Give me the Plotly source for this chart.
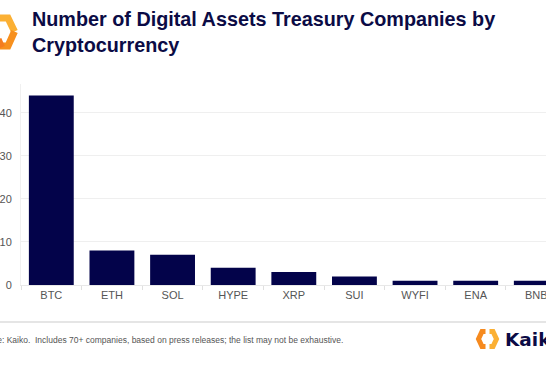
import plotly.graph_objects as go

categories = ["BTC", "ETH", "SOL", "HYPE", "XRP", "SUI", "WYFI", "ENA", "BNB"]
companies = [44, 8, 7, 4, 3, 2, 1, 1, 1]
y_ticks = [0, 10, 20, 30, 40]

W, H = 546, 365
L, R, T, B = 21, 0, 84, 80
PW, PH = W - L - R, H - T - B

def px(x):
    return (x - L) / PW

def py(y):
    return (H - B - y) / PH

NAVY = "#03034a"

fig = go.Figure(go.Bar(
    x=categories, y=companies, marker=dict(color=NAVY, line=dict(width=0)),
    hoverinfo="skip",
))

def path(points, close=False):
    s = "M " + " L ".join(f"{px(x)},{py(y)}" for x, y in points)
    return s + (" Z" if close else "")

shapes = [
    # footer rule
    dict(type="line", xref="paper", yref="paper", x0=px(-5), x1=px(W + 5),
         y0=py(322), y1=py(322), line=dict(color="#dcdcdc", width=1.5)),
    # top-left logo fragment
    dict(type="path", xref="paper", yref="paper",
         path=path([(0, 18), (8, 18), (14.5, 31.5)]),
         line=dict(color="#fbb034", width=7)),
    dict(type="path", xref="paper", yref="paper",
         path=path([(14.5, 31.5), (8, 46), (0, 46)]),
         line=dict(color="#f7901e", width=7)),
    dict(type="path", xref="paper", yref="paper",
         path=path([(-1, 39), (2.5, 47)]),
         line=dict(color="#f47c20", width=5)),
    # bottom-right Kaiko icon
    dict(type="path", xref="paper", yref="paper",
         path=path([(485.5, 331.5), (482, 331.5), (478.5, 339), (482, 346.5), (485.5, 346.5)]),
         line=dict(color="#f68a1f", width=5)),
    dict(type="path", xref="paper", yref="paper",
         path=path([(489.5, 331.5), (493, 331.5), (496.5, 339), (493, 346.5), (489.5, 346.5)]),
         line=dict(color="#fbb034", width=5)),
]

annotations = [
    dict(xref="paper", yref="paper", x=px(30), y=py(6), xanchor="left", yanchor="top",
         text="<b>Number of Digital Assets Treasury Companies by<br>Cryptocurrency</b>",
         align="left", showarrow=False,
         font=dict(family="Liberation Sans, Arial, sans-serif", size=19.8, color="#0b0b45")),
    dict(xref="paper", yref="paper", x=px(-27), y=py(340), xanchor="left", yanchor="middle",
         text="Source: Kaiko.  Includes 70+ companies, based on press releases; the list may not be exhaustive.",
         showarrow=False,
         font=dict(family="Liberation Sans, Arial, sans-serif", size=8.5, color="#555555")),
    dict(xref="paper", yref="paper", x=px(503), y=py(339), xanchor="left", yanchor="middle",
         text="<b>Kaiko</b>", showarrow=False,
         font=dict(family="DejaVu Sans, sans-serif", size=18.5, color="#0b0b45")),
]

fig.update_layout(
    width=W, height=H,
    margin=dict(l=L, r=R, t=T, b=B, pad=0, autoexpand=False),
    paper_bgcolor="white", plot_bgcolor="white",
    bargap=0.26,
    showlegend=False,
    shapes=shapes,
    annotations=annotations,
    font=dict(family="Liberation Sans, Arial, sans-serif", color="#555555"),
    xaxis=dict(
        range=[-0.5, 8.16], showgrid=False, showline=True, linecolor="#e8e8e8",
        ticks="outside", tickson="boundaries", ticklen=4, tickcolor="#e0e0e0",
        tickfont=dict(size=11, color="#555555"), fixedrange=True, automargin=False,
    ),
    yaxis=dict(
        range=[0, 46.7], tickvals=y_ticks, showgrid=True, gridcolor="#efefef",
        showline=True, linecolor="#f0f0f0", zeroline=False,
        ticks="", tickfont=dict(size=11, color="#555555"), ticklabelstandoff=6,
        fixedrange=True, automargin=False,
    ),
)

fig.write_html(
    "out.html",
    config={"displayModeBar": False, "staticPlot": True},
    post_script="document.body.style.margin='0';document.body.style.overflow='hidden';",
)
